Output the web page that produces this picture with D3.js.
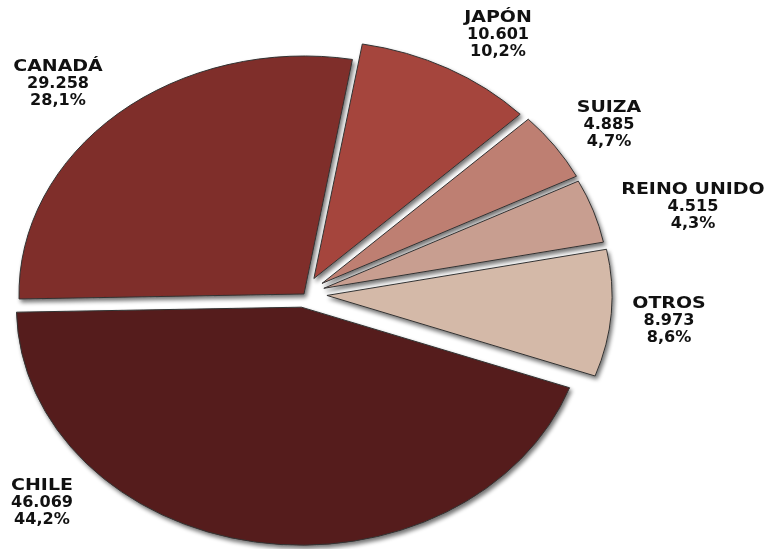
<!DOCTYPE html>
<html>
<head>
<meta charset="utf-8">
<script src="https://cdn.jsdelivr.net/npm/d3@7"></script>
<style>
  html, body { margin: 0; padding: 0; background: #fff; }
  svg { display: block; }
</style>
</head>
<body>
<svg id="chart" width="767" height="549"></svg>
<script>
// Export destinations: name, amount and slice colour
const categories = ["CANADÁ", "JAPÓN", "SUIZA", "REINO UNIDO", "OTROS", "CHILE"];
const values = [29258, 10601, 4885, 4515, 8973, 46069];
const colors = ["#7f2d29", "#a5453c", "#be7f72", "#c89e90", "#d4b9a8", "#541e1d"];

const svg = d3.select("#chart");

// Pie geometry: drawn as a circle, then squashed vertically into an ellipse
const cx = 304, cy = 294;
const R = 285;
const k = 238 / 285;

// How far each slice is pulled away from the centre (circle units)
const explode = { "CANADÁ": 0, "JAPÓN": 21, "SUIZA": 22, "REINO UNIDO": 21, "OTROS": 23, "CHILE": 16 };

// Where each label block sits (centre x, baseline of first line)
const labelAt = {
  "CANADÁ": [58, 71],
  "JAPÓN": [498, 22],
  "SUIZA": [609, 112],
  "REINO UNIDO": [693, 194],
  "OTROS": [669, 308],
  "CHILE": [42, 490]
};

const locale = d3.formatLocale({ decimal: ",", thousands: ".", grouping: [3], currency: ["", ""] });
const fmtInt = locale.format(",d");
const fmtPct = locale.format(".1%");

const total = d3.sum(values);
const rows = categories.map((c, i) => ({ name: c, value: values[i], color: colors[i] }));

const tilt = 0.021;
const pie = d3.pie()
  .sort(null)
  .value(d => d.value)
  .startAngle(-Math.PI / 2 - tilt)
  .endAngle(3 * Math.PI / 2 - tilt);

const arc = d3.arc().innerRadius(0).outerRadius(R);

const defs = svg.append("defs");
const f = defs.append("filter").attr("id", "shadow")
  .attr("x", "-10%").attr("y", "-10%").attr("width", "120%").attr("height", "120%");
f.append("feGaussianBlur").attr("in", "SourceAlpha").attr("stdDeviation", 2.2).attr("result", "b");
f.append("feOffset").attr("in", "b").attr("dx", 2).attr("dy", 2.5).attr("result", "o");
f.append("feComponentTransfer").attr("in", "o").attr("result", "s")
  .append("feFuncA").attr("type", "linear").attr("slope", 0.55);
const m = f.append("feMerge");
m.append("feMergeNode").attr("in", "s");
m.append("feMergeNode").attr("in", "SourceGraphic");

const pieG = svg.append("g").attr("filter", "url(#shadow)");

pie(rows).forEach(d => {
  const mid = (d.startAngle + d.endAngle) / 2;
  const dist = explode[d.data.name] || 0;
  const ox = Math.sin(mid) * dist;
  const oy = -Math.cos(mid) * dist * k;
  pieG.append("path")
    .attr("d", arc(d))
    .attr("transform", `translate(${cx + ox},${cy + oy}) scale(1,${k})`)
    .attr("fill", d.data.color)
    .attr("stroke", "#333")
    .attr("stroke-width", 1)
    .attr("vector-effect", "non-scaling-stroke");
});

// Labels: name (wide bold), amount, share
const lineStep = 16.8;
const font = "'DejaVu Sans', Verdana, sans-serif";
rows.forEach(r => {
  const [lx, ly] = labelAt[r.name];
  const g = svg.append("g").attr("transform", `translate(${lx},${ly})`);
  const lines = [
    { text: r.name, size: 16.5, sx: 1.15 },
    { text: fmtInt(r.value), size: 15.8, sx: 1.02 },
    { text: fmtPct(r.value / total), size: 15.8, sx: 1.02 }
  ];
  lines.forEach((ln, i) => {
    g.append("text")
      .attr("transform", `translate(0,${i * lineStep}) scale(${ln.sx},1)`)
      .attr("text-anchor", "middle")
      .attr("font-family", font)
      .attr("font-weight", "bold")
      .attr("font-size", ln.size)
      .attr("fill", "#111")
      .text(ln.text);
  });
});
</script>
</body>
</html>
